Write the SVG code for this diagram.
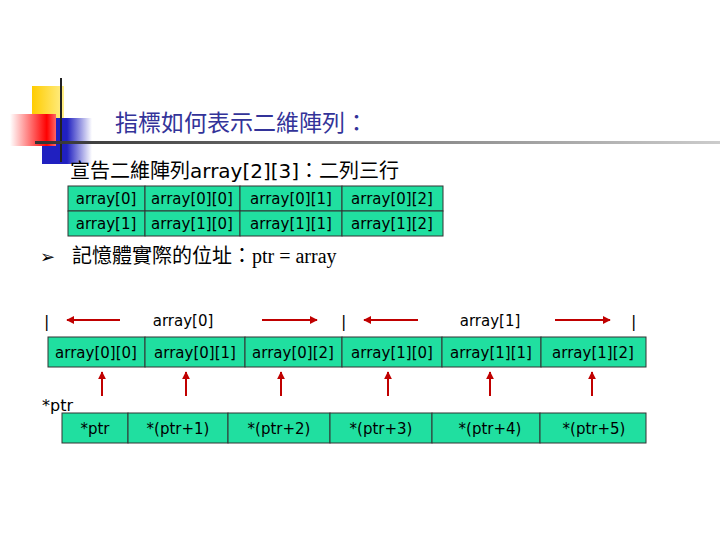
<svg xmlns="http://www.w3.org/2000/svg" width="720" height="540" viewBox="0 0 720 540">
<defs>
<style>
.c{fill:#20DFA0;stroke:#333;stroke-width:1}
.t{font-family:"DejaVu Sans",sans-serif;font-size:15px;fill:#000;text-anchor:middle}
.a{stroke:#C00000;stroke-width:2;fill:none}
</style>
<marker id="ah" viewBox="0 0 10 10" refX="9" refY="5" markerWidth="4" markerHeight="4" orient="auto"><path d="M0,0L10,5L0,10z" fill="#C00000"/></marker>
<linearGradient id="rg" x1="0" x2="1"><stop offset="0" stop-color="#fff"/><stop offset="0.8" stop-color="#f00"/><stop offset="1" stop-color="#f66"/></linearGradient>
<linearGradient id="bg" x1="0" x2="1"><stop offset="0" stop-color="#2020c0"/><stop offset="0.5" stop-color="#2020c0"/><stop offset="1" stop-color="#2020c0" stop-opacity="0"/></linearGradient>
<linearGradient id="yg" x1="0" x2="1"><stop offset="0" stop-color="#ffcc00"/><stop offset="1" stop-color="#ffee88"/></linearGradient>
<linearGradient id="lg" x1="0" x2="1"><stop offset="0" stop-color="#333"/><stop offset="1" stop-color="#ccc"/></linearGradient>
</defs>
<g id="logo">
<rect x="32" y="86" width="32" height="32" fill="url(#yg)"/>
<rect x="42" y="118" width="50" height="46" fill="url(#bg)"/>
<rect x="10" y="114" width="46" height="32" fill="url(#rg)"/>
<line x1="61" y1="78" x2="61" y2="162" stroke="#222" stroke-width="2"/>
<rect x="35" y="141" width="685" height="3" fill="url(#lg)"/>
</g>
<g id="texts" font-family="'Noto Sans CJK TC',sans-serif">
<text x="115" y="131" font-size="23" fill="#333399">指標如何表示二維陣列：</text>
<text x="70" y="178" font-size="20" fill="#000">宣告二維陣列<tspan font-family="'DejaVu Sans',sans-serif">array[2][3]</tspan>：二列三行</text>
<text x="40" y="263" font-size="18" fill="#000" font-family="'DejaVu Sans',sans-serif">➢</text>
<text x="72" y="263" font-size="20" fill="#000">記憶體實際的位址：<tspan font-family="'Liberation Serif',serif">ptr = array</tspan></text>
</g>
<g id="table1">
<rect class="c" x="68" y="186" width="77" height="25"/><rect class="c" x="145" y="186" width="95" height="25"/><rect class="c" x="240" y="186" width="102" height="25"/><rect class="c" x="342" y="186" width="101" height="25"/>
<rect class="c" x="68" y="211" width="77" height="25"/><rect class="c" x="145" y="211" width="95" height="25"/><rect class="c" x="240" y="211" width="102" height="25"/><rect class="c" x="342" y="211" width="101" height="25"/>
<text class="t" x="106" y="204">array[0]</text><text class="t" x="192" y="204">array[0][0]</text><text class="t" x="291" y="204">array[0][1]</text><text class="t" x="392" y="204">array[0][2]</text>
<text class="t" x="106" y="229">array[1]</text><text class="t" x="192" y="229">array[1][0]</text><text class="t" x="291" y="229">array[1][1]</text><text class="t" x="392" y="229">array[1][2]</text>
</g>
<g id="labels" font-family="'DejaVu Sans',sans-serif" font-size="16">
<text x="44" y="327">|</text><text x="341" y="327">|</text><text x="631" y="327">|</text>
<text class="t" x="183" y="326">array[0]</text><text class="t" x="490" y="326">array[1]</text>
<text x="42" y="411" font-size="16">*ptr</text>
</g>
<g id="table2">
<rect class="c" x="48" y="337" width="97" height="30"/><rect class="c" x="145" y="337" width="100" height="30"/><rect class="c" x="245" y="337" width="97" height="30"/><rect class="c" x="342" y="337" width="100" height="30"/><rect class="c" x="442" y="337" width="99" height="30"/><rect class="c" x="541" y="337" width="105" height="30"/>
<text class="t" x="96" y="358">array[0][0]</text><text class="t" x="195" y="358">array[0][1]</text><text class="t" x="293" y="358">array[0][2]</text><text class="t" x="392" y="358">array[1][0]</text><text class="t" x="491" y="358">array[1][1]</text><text class="t" x="593" y="358">array[1][2]</text>
</g>
<g id="table3">
<rect class="c" x="62" y="413" width="66" height="30"/><rect class="c" x="128" y="413" width="100" height="30"/><rect class="c" x="228" y="413" width="102" height="30"/><rect class="c" x="330" y="413" width="102" height="30"/><rect class="c" x="432" y="413" width="108" height="30"/><rect class="c" x="540" y="413" width="106" height="30"/>
<text class="t" x="95" y="434">*ptr</text><text class="t" x="178" y="434">*(ptr+1)</text><text class="t" x="279" y="434">*(ptr+2)</text><text class="t" x="381" y="434">*(ptr+3)</text><text class="t" x="490" y="434">*(ptr+4)</text><text class="t" x="594" y="434">*(ptr+5)</text>
</g>
<g id="connectors">
<line class="a" x1="120" y1="320" x2="67" y2="320" marker-end="url(#ah)"/>
<line class="a" x1="262" y1="320" x2="317" y2="320" marker-end="url(#ah)"/>
<line class="a" x1="418" y1="320" x2="364" y2="320" marker-end="url(#ah)"/>
<line class="a" x1="555" y1="320" x2="610" y2="320" marker-end="url(#ah)"/>
<line class="a" x1="102" y1="396" x2="102" y2="372" marker-end="url(#ah)"/>
<line class="a" x1="186" y1="396" x2="186" y2="372" marker-end="url(#ah)"/>
<line class="a" x1="281" y1="396" x2="281" y2="372" marker-end="url(#ah)"/>
<line class="a" x1="388" y1="396" x2="388" y2="372" marker-end="url(#ah)"/>
<line class="a" x1="490" y1="396" x2="490" y2="372" marker-end="url(#ah)"/>
<line class="a" x1="592" y1="396" x2="592" y2="372" marker-end="url(#ah)"/>
</g>
</svg>
